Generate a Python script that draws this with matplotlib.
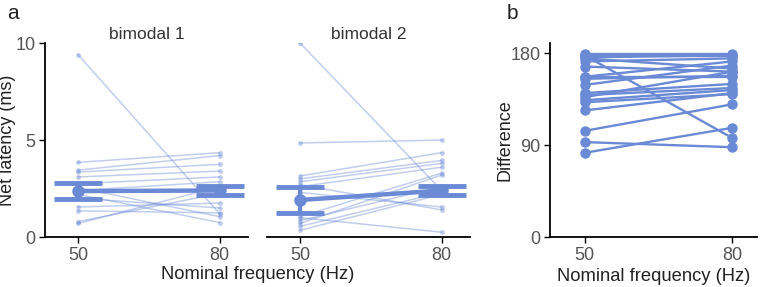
import matplotlib
matplotlib.use('Agg')
import matplotlib.pyplot as plt

plt.rcParams['font.family'] = ['Liberation Sans', 'DejaVu Sans']

freqs = [50, 80]
col = '#6b8ad6'

# panel a, bimodal 1 (net latency, ms) at 50 Hz and 80 Hz
bi1_50 = [9.4, 3.85, 3.45, 3.35, 3.1, 2.75, 2.55, 2.4, 2.2, 2.0, 1.55, 1.35, 0.8, 0.7]
bi1_80 = [1.2, 4.35, 4.2, 3.75, 3.4, 3.1, 1.05, 2.85, 0.75, 1.5, 1.75, 1.25, 2.25, 2.6]
bi1_mean = [2.37, 2.40]
bi1_err = [0.43, 0.23]

# panel a, bimodal 2
bi2_50 = [10.0, 4.85, 3.15, 3.0, 2.85, 2.6, 2.3, 1.05, 0.85, 0.7, 0.55, 0.35, 1.0, 2.7]
bi2_80 = [2.4, 5.0, 4.35, 3.95, 3.8, 3.6, 1.55, 3.3, 2.6, 3.2, 2.3, 2.2, 0.25, 1.4]
bi2_mean = [1.91, 2.40]
bi2_err = [0.69, 0.23]

# panel b, difference
diff_50 = [179, 178, 176, 175, 172, 167, 157, 155, 149, 141, 139, 137, 134, 132, 124, 104, 93, 82.5, 157, 177]
diff_80 = [179, 97, 178, 165, 175, 162, 172, 158, 168, 150, 146, 162, 144, 140, 141, 130, 88, 107, 157, 177]

fig = plt.figure(figsize=(7.63, 2.87), dpi=100)
ax1 = fig.add_axes([0.059, 0.174, 0.266, 0.676])
ax2 = fig.add_axes([0.350, 0.174, 0.266, 0.676])
ax3 = fig.add_axes([0.721, 0.174, 0.271, 0.676])


def style(ax):
    for s in ['top', 'right']:
        ax.spines[s].set_visible(False)
    for s in ['left', 'bottom']:
        ax.spines[s].set_linewidth(1.3)
    ax.tick_params(direction='out', length=4, width=1, labelsize=13,
                   labelcolor='#555555', pad=3)
    ax.set_xticks(freqs)
    ax.set_xlim(43, 86)


def latency(ax, v50, v80, mean, err, title):
    for a, b in zip(v50, v80):
        ax.plot(freqs, [a, b], '-o', color=col, alpha=0.42, lw=1.1, ms=3.5, mew=0)
    ax.plot(freqs, mean, '-', color=col, lw=3.2)
    ax.errorbar(freqs, mean, yerr=err, fmt='o', color=col, ms=8, elinewidth=3,
                capsize=17, capthick=3.5)
    ax.set_ylim(0, 10)
    ax.set_title(title, fontsize=12.5, color='#333333', pad=3)
    style(ax)


latency(ax1, bi1_50, bi1_80, bi1_mean, bi1_err, 'bimodal 1')
ax1.set_yticks([0, 5, 10])
ax1.set_ylabel('Net latency (ms)', fontsize=13, color='#222222')
ax1.yaxis.set_label_coords(-0.145, 0.5)

latency(ax2, bi2_50, bi2_80, bi2_mean, bi2_err, 'bimodal 2')
ax2.spines['left'].set_visible(False)
ax2.set_yticks([])

for a, b in zip(diff_50, diff_80):
    ax3.plot(freqs, [a, b], '-o', color=col, lw=1.7, ms=6.5)
ax3.set_ylim(0, 190)
ax3.set_yticks([0, 90, 180])
ax3.set_ylabel('Difference', fontsize=13, color='#222222')
ax3.yaxis.set_label_coords(-0.178, 0.5)
ax3.set_xlabel('Nominal frequency (Hz)', fontsize=13.2, color='#222222', labelpad=3)
style(ax3)
ax3.set_xlim(43, 85)

fig.text(0.338, 0.028, 'Nominal frequency (Hz)', ha='center', fontsize=13.2, color='#222222')
fig.text(0.009, 0.935, 'a', fontsize=15, color='#222222')
fig.text(0.664, 0.935, 'b', fontsize=15, color='#222222')

fig.savefig('out.png', dpi=100)
